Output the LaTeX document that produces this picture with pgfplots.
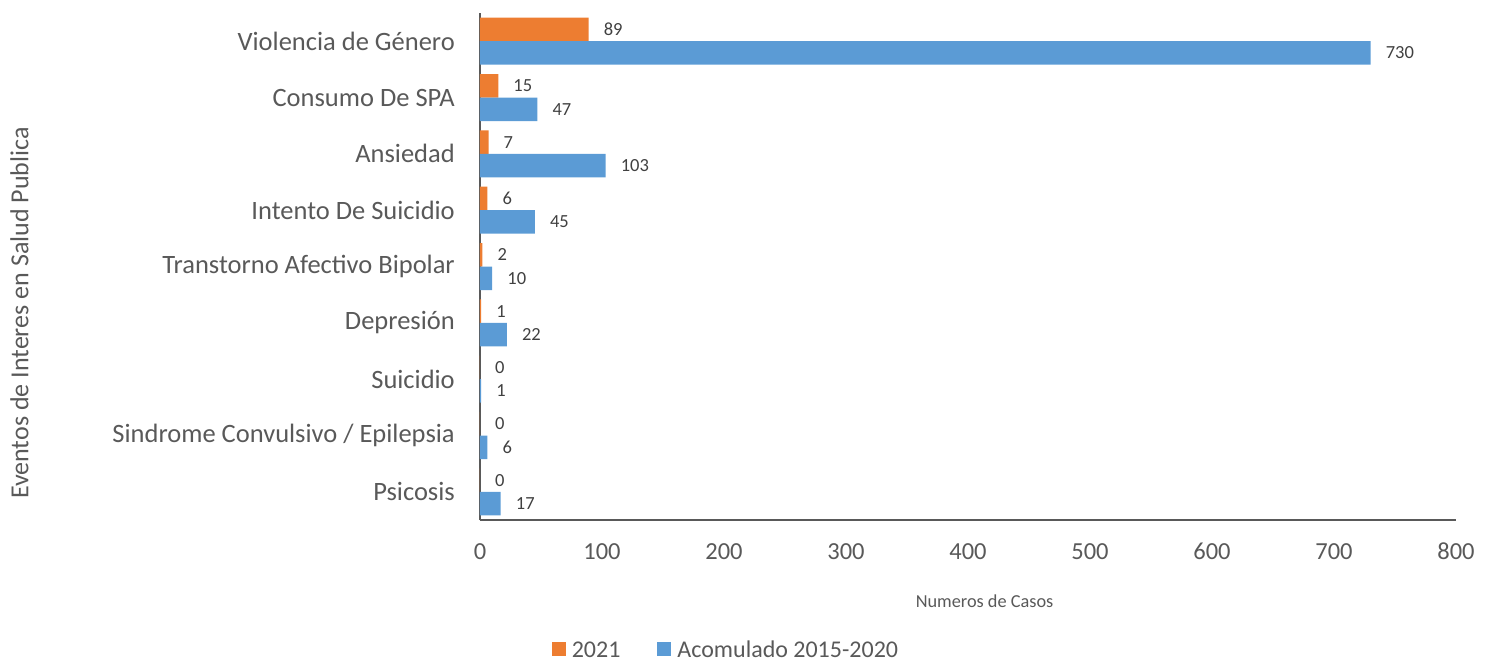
\documentclass[border=0pt]{standalone}
\usepackage{fontspec}
\setmainfont{Carlito}
\usepackage{pgfplots}
\pgfplotsset{compat=1.18}
\definecolor{c21}{HTML}{ED7D31}
\definecolor{cacc}{HTML}{5B9BD5}
\definecolor{txt}{HTML}{595959}
\definecolor{lbl}{HTML}{404040}
\definecolor{axl}{HTML}{595959}

\begin{document}
\begin{tikzpicture}
\useasboundingbox (-480pt,-141pt) rectangle (1016pt,520pt);
\begin{axis}[
  at={(0pt,0pt)}, anchor=south west,
  scale only axis, width=976pt, height=507pt,
  xbar, bar width=23.5pt,
  xmin=0, xmax=800, ymin=-0.5, ymax=8.5,
  enlargelimits=false, clip=false,
  axis x line*=bottom, axis y line*=left,
  axis line style={draw=axl, line width=1.5pt},
  major tick length=0pt,
  /pgf/number format/assume math mode=true,
  xtick={0,100,...,800},
  ytick={0,...,8},
  yticklabels={Psicosis, Sindrome Convulsivo / Epilepsia, Suicidio, Depresión,
    Transtorno Afectivo Bipolar, Intento De Suicidio, Ansiedad, Consumo De SPA,
    Violencia de Género},
  xticklabel style={font=\fontsize{24.5}{29}\selectfont, text=txt, inner sep=0pt,
    anchor=north, yshift=-23pt},
  yticklabel style={font=\fontsize{26.5}{31}\selectfont, text=txt, inner sep=0pt,
    anchor=east, xshift=-25pt},
  xlabel={Numeros de Casos},
  xlabel style={at={(axis description cs:0.517,-0.16)}, anchor=center,
    font=\fontsize{18.3}{22}\selectfont, text=txt},
  ylabel={Eventos de Interes en Salud Publica},
  ylabel style={at={(axis description cs:-0.472,0.408)}, anchor=center,
    font=\fontsize{26}{31}\selectfont, text=txt},
  point meta=x,
  nodes near coords,
  nodes near coords style={font=\fontsize{18.5}{22}\selectfont, text=lbl,
    inner sep=0pt, anchor=west, xshift=15pt},
  legend columns=2,
  legend image code/.code={\fill[#1] (0pt,-6pt) rectangle (14pt,8pt);},
  legend style={at={(0.251,-0.2565)}, anchor=center, draw=none, fill=none,
    inner sep=0pt, font=\fontsize{24}{29}\selectfont, text=txt,
    nodes={inner sep=0pt},
    /tikz/every odd column/.append style={column sep=6pt},
    /tikz/every even column/.append style={column sep=37pt}},
]
  % 2021
  \addplot[fill=c21, draw=none, bar shift=11.75pt] coordinates {
    (0,0) (0,1) (0,2) (1,3) (2,4) (6,5) (7,6) (15,7) (89,8)
  };
  \addlegendentry{2021}
  % acumulado 2015-2020
  \addplot[fill=cacc, draw=none, bar shift=-11.75pt] coordinates {
    (17,0) (6,1) (1,2) (22,3) (10,4) (45,5) (103,6) (47,7) (730,8)
  };
  \addlegendentry{Acomulado 2015-2020}
\end{axis}
\end{tikzpicture}
\end{document}
